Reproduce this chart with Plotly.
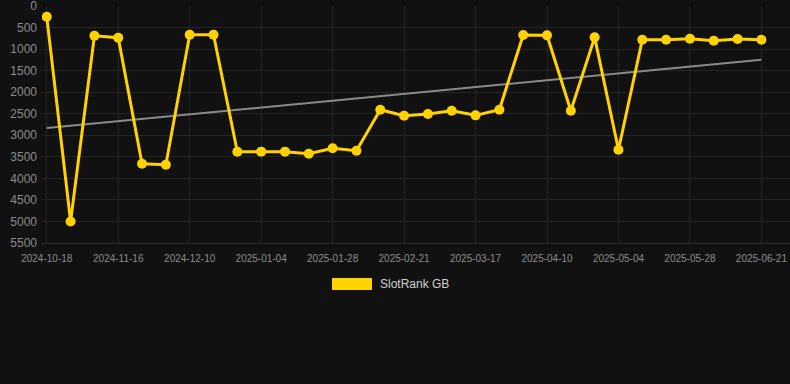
import plotly.graph_objects as go

dates = ["2024-10-18", "2024-10-28", "2024-11-07", "2024-11-16", "2024-11-24", "2024-12-02",
         "2024-12-10", "2024-12-18", "2024-12-27", "2025-01-04", "2025-01-12", "2025-01-20",
         "2025-01-28", "2025-02-05", "2025-02-13", "2025-02-21", "2025-03-01", "2025-03-09",
         "2025-03-17", "2025-03-25", "2025-04-02", "2025-04-10", "2025-04-18", "2025-04-26",
         "2025-05-04", "2025-05-12", "2025-05-20", "2025-05-28", "2025-06-05", "2025-06-13",
         "2025-06-21"]
ranks = [250, 5000, 690, 735, 3660, 3683, 666, 666, 3381, 3380, 3380, 3428, 3302, 3358,
         2406, 2545, 2506, 2430, 2537, 2406, 673, 680, 2430, 727, 3335, 782, 782, 759,
         805, 766, 782]
trend_x = ["2024-10-18", "2025-06-21"]
trend_y = [2831, 1245]
tick_labels = dates[::3]
y_ticks = list(range(0, 5501, 500))

GOLD = "#FFD200"
fig = go.Figure()
fig.add_trace(go.Scatter(x=trend_x, y=trend_y, mode="lines",
                         line=dict(color="#8a8a8a", width=2), showlegend=False,
                         hoverinfo="skip"))
fig.add_trace(go.Scatter(x=dates, y=ranks, mode="lines+markers", name="SlotRank GB",
                         line=dict(color=GOLD, width=3),
                         marker=dict(color=GOLD, size=10), showlegend=False))

fig.update_layout(
    width=790, height=384,
    paper_bgcolor="#111111", plot_bgcolor="#111111",
    margin=dict(l=42, r=0, t=6, b=141),
    font=dict(family="Arial, Liberation Sans, sans-serif", color="#8c8c8c"),
    showlegend=False,
    xaxis=dict(type="category", categoryorder="array", categoryarray=dates,
               range=[-0.2, 31.2], tickmode="array", tickvals=tick_labels,
               ticktext=tick_labels, tickfont=dict(size=10, color="#8c8c8c"),
               showgrid=True, gridcolor="#242424", gridwidth=1, zeroline=False,
               showline=True, linecolor="#2a2a2a", ticks="", ticklabelstandoff=6),
    yaxis=dict(range=[5500, -1], tickmode="array", tickvals=y_ticks,
               ticktext=[str(v) for v in y_ticks],
               tickfont=dict(size=12, color="#8c8c8c"), ticklabeloverflow="allow",
               showgrid=True, gridcolor="#242424", gridwidth=1, zeroline=False,
               showline=False, ticks="", ticklabelstandoff=4),
)
# manual legend
fig.add_shape(type="rect", xref="paper", yref="paper",
              x0=(332 - 42) / 748, x1=(372 - 42) / 748,
              y0=(243 - 290) / 237, y1=(243 - 278) / 237,
              fillcolor=GOLD, line=dict(width=0))
fig.add_annotation(text="SlotRank GB", xref="paper", yref="paper",
                   x=(378 - 42) / 748, y=(243 - 284) / 237, xanchor="left", yanchor="middle",
                   showarrow=False, font=dict(size=12, color="#d0d0d0"))

fig.write_html("out.html", config={"displayModeBar": False},
               post_script="document.body.style.margin='0';document.body.style.background='#111111';")
